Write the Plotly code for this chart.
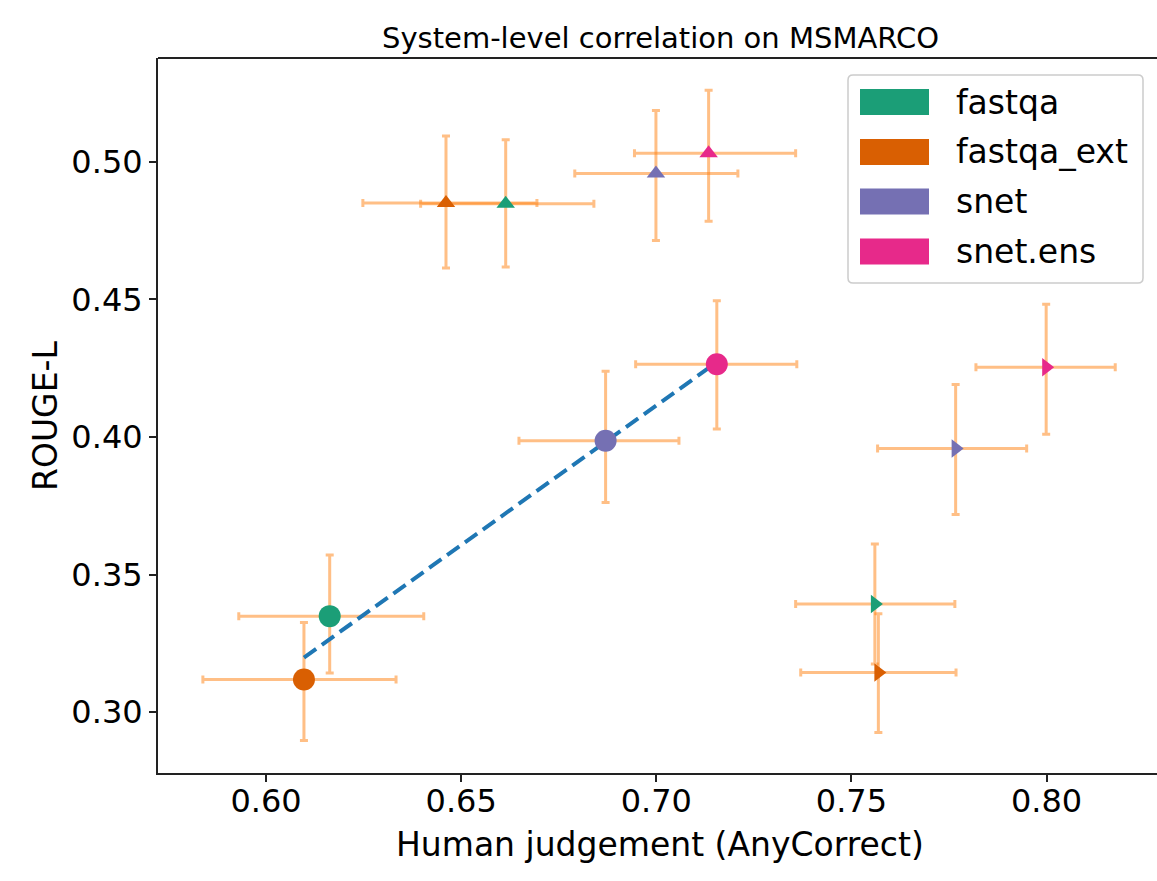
import numpy as np
import plotly.graph_objects as go

# ---------------- data ----------------
models = ["fastqa", "fastqa_ext", "snet", "snet.ens"]
colors = ["#1b9e77", "#d95f02", "#7570b3", "#e7298a"]

# circles (used for the fit line)
circ_x = [0.6163, 0.6097, 0.6870, 0.7155]
circ_y = [0.3349, 0.3119, 0.3986, 0.4264]
circ_xerr_minus = [0.0233, 0.0259, 0.0222, 0.0208]
circ_xerr_plus = [0.0241, 0.0236, 0.0188, 0.0205]
circ_yerr_plus = [0.0222, 0.0207, 0.0253, 0.0231]
circ_yerr_minus = [0.0207, 0.0222, 0.0224, 0.0235]

# up triangles
up_x = [0.6614, 0.6461, 0.6999, 0.7134]
up_y = [0.4847, 0.4850, 0.4957, 0.5031]
up_xerr_minus = [0.0218, 0.0213, 0.0208, 0.0190]
up_xerr_plus = [0.0226, 0.0233, 0.0210, 0.0223]
up_yerr_plus = [0.0233, 0.0244, 0.0229, 0.0229]
up_yerr_minus = [0.0229, 0.0236, 0.0243, 0.0247]

# right triangles
rt_x = [0.7560, 0.7569, 0.7767, 0.7999]
rt_y = [0.3393, 0.3144, 0.3958, 0.4253]
rt_xerr_minus = [0.0203, 0.0199, 0.0200, 0.0180]
rt_xerr_plus = [0.0205, 0.0199, 0.0182, 0.0177]
rt_yerr_plus = [0.0218, 0.0214, 0.0233, 0.0229]
rt_yerr_minus = [0.0218, 0.0218, 0.0240, 0.0243]

x_ticks = [0.60, 0.65, 0.70, 0.75, 0.80]
y_ticks = [0.30, 0.35, 0.40, 0.45, 0.50]

title_text = "System-level correlation on MSMARCO"
x_title = "Human judgement (AnyCorrect)"
y_title = "ROUGE-L"

# ---------------- figure ----------------
FONT = "DejaVu Sans"
ERR_COLOR = "rgba(255,127,14,0.5)"

fig = go.Figure()

groups = [
    (circ_x, circ_y, circ_xerr_minus, circ_xerr_plus, circ_yerr_minus, circ_yerr_plus, "circle", 22),
    (up_x, up_y, up_xerr_minus, up_xerr_plus, up_yerr_minus, up_yerr_plus, "triangle-up", 16),
    (rt_x, rt_y, rt_xerr_minus, rt_xerr_plus, rt_yerr_minus, rt_yerr_plus, "triangle-right", 16),
]

# error bars first (beneath everything)
for gx, gy, xm, xp, ym, yp, sym, sz in groups:
    fig.add_trace(go.Scatter(
        x=gx, y=gy, mode="markers",
        marker=dict(size=2, opacity=0),
        error_x=dict(type="data", symmetric=False, array=xp, arrayminus=xm,
                     color=ERR_COLOR, thickness=3, width=4),
        error_y=dict(type="data", symmetric=False, array=yp, arrayminus=ym,
                     color=ERR_COLOR, thickness=3, width=4),
        showlegend=False, hoverinfo="skip",
    ))

# fit line on the circle points
slope, intercept = np.polyfit(circ_x, circ_y, 1)
fx = np.array([min(circ_x), max(circ_x)])
fig.add_trace(go.Scatter(
    x=fx, y=slope * fx + intercept, mode="lines",
    line=dict(color="#1f77b4", width=4, dash="15px,7px"),
    showlegend=False, hoverinfo="skip",
))

# markers
for gx, gy, xm, xp, ym, yp, sym, sz in groups:
    fig.add_trace(go.Scatter(
        x=gx, y=gy, mode="markers",
        marker=dict(symbol=sym, size=sz, color=colors, line=dict(width=0)),
        showlegend=False,
    ))

# body margin is removed (post_script): plot area is x 158..1157, y 58..773
W, H = 1157, 881
L, R, T, B = 158, 0, 58, 108
PW, PH = W - L - R, H - T - B
PLOT_LEFT, PLOT_BOTTOM = L, H - B


def px_x(p):
    return (p - PLOT_LEFT) / PW


def px_y(p):
    return (PLOT_BOTTOM - p) / PH


shapes = []
# top spine
shapes.append(dict(type="line", xref="paper", yref="paper", x0=0, x1=1, y0=1, y1=1,
                   line=dict(color="#222222", width=2)))

# manual legend box (rounded)
bx0, bx1 = px_x(848), px_x(1143)
by1, by0 = px_y(75), px_y(283)
rx, ry = 5 / PW, 5 / PH
path = (f"M {bx0+rx},{by1} L {bx1-rx},{by1} Q {bx1},{by1} {bx1},{by1-ry} "
        f"L {bx1},{by0+ry} Q {bx1},{by0} {bx1-rx},{by0} "
        f"L {bx0+rx},{by0} Q {bx0},{by0} {bx0},{by0+ry} "
        f"L {bx0},{by1-ry} Q {bx0},{by1} {bx0+rx},{by1} Z")
shapes.append(dict(type="path", xref="paper", yref="paper", path=path,
                   fillcolor="rgba(255,255,255,0.8)", line=dict(color="#cccccc", width=1.5)))

annotations = []
row_centers = [102, 152, 201.5, 251.5]
for name, col, rc in zip(models, colors, row_centers):
    shapes.append(dict(type="rect", xref="paper", yref="paper",
                       x0=px_x(860), x1=px_x(929), y0=px_y(rc + 13), y1=px_y(rc - 13),
                       fillcolor=col, line=dict(width=0)))
    annotations.append(dict(text=name, xref="paper", yref="paper", x=px_x(954), y=px_y(rc),
                            xanchor="left", yanchor="middle", showarrow=False,
                            font=dict(family=FONT, size=33, color="black")))

# title and axis titles
annotations.append(dict(text=title_text, xref="paper", yref="paper", x=px_x(660.5), y=px_y(38),
                        xanchor="center", yanchor="middle", showarrow=False,
                        font=dict(family=FONT, size=29, color="black")))
annotations.append(dict(text=x_title, xref="paper", yref="paper", x=px_x(659.5), y=px_y(844),
                        xanchor="center", yanchor="middle", showarrow=False,
                        font=dict(family=FONT, size=33, color="black")))
annotations.append(dict(text=y_title, xref="paper", yref="paper", x=px_x(45), y=px_y(416),
                        xanchor="center", yanchor="middle", showarrow=False, textangle=-90,
                        font=dict(family=FONT, size=33, color="black")))

fig.update_layout(
    width=W, height=H,
    margin=dict(l=L, r=R, t=T, b=B, pad=0),
    paper_bgcolor="white", plot_bgcolor="white",
    shapes=shapes, annotations=annotations,
    showlegend=False,
    font=dict(family=FONT, size=32, color="black"),
)
fig.update_xaxes(
    range=[0.5723, 0.8283], tickvals=x_ticks, ticktext=[f"{v:.2f}" for v in x_ticks],
    showgrid=False, zeroline=False, showline=True, linecolor="#222222", linewidth=2,
    ticks="outside", ticklen=7, tickwidth=1.5, tickcolor="#222222",
    tickfont=dict(family=FONT, size=32, color="black"), ticklabelstandoff=-8,
)
fig.update_yaxes(
    range=[0.2779, 0.5377], tickvals=y_ticks, ticktext=[f"{v:.2f}" for v in y_ticks],
    showgrid=False, zeroline=False, showline=True, linecolor="#222222", linewidth=2,
    ticks="outside", ticklen=7, tickwidth=1.5, tickcolor="#222222",
    tickfont=dict(family=FONT, size=32, color="black"), ticklabelstandoff=0,
)

fig.write_html(
    "out.html",
    config={"displayModeBar": False},
    post_script="document.documentElement.style.overflow='hidden';"
                "document.body.style.margin='0px';document.body.style.overflow='hidden';",
)
